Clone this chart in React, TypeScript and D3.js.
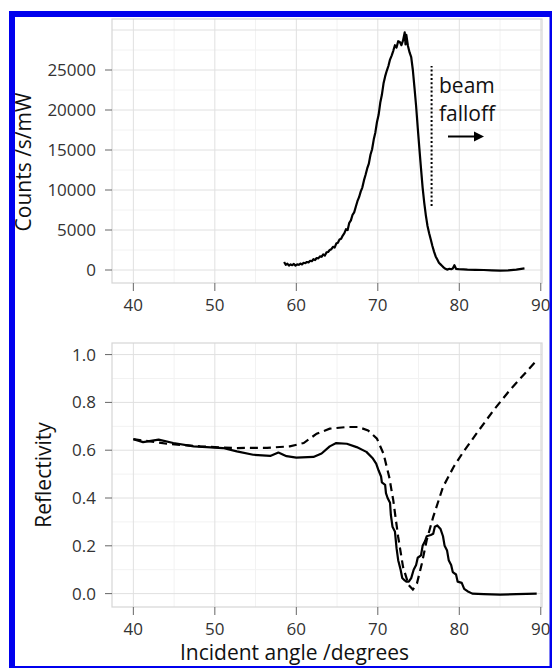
import React from 'react';
import * as d3 from 'd3';

// Top panel: photon counts vs incident angle
const countAngles = [58.5, 58.7, 58.9, 59.1, 59.3, 59.5, 59.7, 59.9, 60.1, 60.3, 60.5, 60.7, 60.9, 61.1, 61.3, 61.5, 61.7, 61.9, 62.1, 62.3, 62.5, 62.7, 62.9, 63.1, 63.3, 63.5, 63.7, 63.9, 64.1, 64.3, 64.5, 64.7, 64.9, 65.1, 65.3, 65.5, 65.7, 65.9, 66.1, 66.3, 66.5, 66.7, 66.9, 67.1, 67.3, 67.5, 67.7, 67.9, 68.1, 68.3, 68.5, 68.7, 68.9, 69.1, 69.3, 69.5, 69.7, 69.9, 70.1, 70.3, 70.5, 70.7, 70.9, 71.1, 71.3, 71.5, 71.7, 71.9, 72.1, 72.3, 72.5, 72.7, 72.9, 73.1, 73.3, 73.4, 73.5, 73.7, 73.9, 74.1, 74.3, 74.5, 74.7, 74.9, 75.1, 75.3, 75.5, 75.7, 75.9, 76.1, 76.3, 76.5, 76.7, 76.9, 77.1, 77.3, 77.5, 77.7, 77.9, 78.1, 78.3, 78.5, 78.8, 79.0, 79.2, 79.4, 79.6, 79.9, 80.5, 81, 82, 83, 84, 85, 86, 87, 88];
const counts = [1000, 650, 800, 550, 700, 600, 750, 550, 700, 650, 800, 700, 900, 850, 1000, 950, 1150, 1100, 1350, 1250, 1500, 1450, 1700, 1650, 1950, 1800, 2200, 2250, 2500, 2600, 2900, 2800, 3300, 3400, 3800, 3900, 4300, 4600, 5100, 5000, 5900, 6200, 6900, 7200, 7900, 8600, 9100, 9800, 10300, 11200, 11900, 12700, 13300, 14400, 15100, 16300, 17200, 18500, 19400, 20900, 21900, 23300, 24200, 24900, 25500, 26300, 26800, 27400, 28100, 27800, 28600, 28500, 28100, 28700, 29700, 28200, 29400, 28000, 27200, 26600, 25000, 22800, 20500, 17800, 15200, 12700, 10300, 8400, 6800, 5500, 4600, 3800, 3000, 2300, 1700, 1300, 900, 700, 500, 300, 150, 50, 150, 100, 200, 600, 150, 100, 80, 40, 20, 0, -50, -80, -50, 50, 200];

// Bottom panel: measured reflectivity (solid)
const measAngles = [40.0, 41.2, 43.1, 44.9, 47.4, 49.0, 51.0, 52.7, 54.7, 56.8, 57.8, 58.8, 60.0, 62.1, 63.1, 64.1, 64.9, 66.2, 67.4, 68.6, 69.4, 69.8, 70.1, 70.4, 70.5, 70.9, 71.0, 71.2, 71.5, 71.6, 71.8, 72.1, 72.3, 72.5, 72.8, 73.0, 73.3, 73.5, 73.8, 74.1, 74.4, 74.7, 74.9, 75.3, 75.5, 75.8, 76.0, 76.5, 76.8, 77.0, 77.3, 77.7, 78.0, 78.2, 78.5, 78.7, 79.0, 79.2, 79.6, 79.8, 80.3, 80.6, 81.0, 81.6, 83, 85, 87, 89.5];
const measRefl = [0.646, 0.634, 0.644, 0.630, 0.616, 0.613, 0.609, 0.595, 0.581, 0.576, 0.590, 0.575, 0.569, 0.572, 0.586, 0.616, 0.630, 0.627, 0.613, 0.593, 0.565, 0.544, 0.515, 0.49, 0.465, 0.455, 0.42, 0.40, 0.38, 0.33, 0.28, 0.26, 0.19, 0.14, 0.10, 0.065, 0.055, 0.05, 0.05, 0.065, 0.10, 0.12, 0.15, 0.16, 0.20, 0.22, 0.24, 0.245, 0.25, 0.28, 0.285, 0.27, 0.24, 0.20, 0.18, 0.14, 0.12, 0.09, 0.08, 0.05, 0.045, 0.02, 0.01, 0.0, -0.002, -0.004, -0.002, 0.0];

// Bottom panel: model reflectivity (dashed)
const modelAngles = [40, 44.1, 48.2, 52.3, 56.4, 59.2, 60.9, 62.5, 64.1, 66.2, 67.6, 68.8, 69.9, 70.7, 71.4, 71.9, 72.5, 73.1, 73.8, 74.3, 74.8, 75.4, 76.0, 76.8, 78.0, 79.3, 80.5, 82.1, 84.2, 86.2, 89.5];
const modelRefl = [0.646, 0.627, 0.616, 0.609, 0.610, 0.616, 0.630, 0.669, 0.690, 0.697, 0.697, 0.683, 0.648, 0.585, 0.488, 0.390, 0.237, 0.111, 0.035, 0.017, 0.042, 0.125, 0.223, 0.321, 0.446, 0.530, 0.593, 0.669, 0.767, 0.851, 0.976];

const angleTicks = [40, 50, 60, 70, 80, 90];
const countTicks = [0, 5000, 10000, 15000, 20000, 25000];
const reflTicks = [0, 0.2, 0.4, 0.6, 0.8, 1.0];

const FONT = '"Open Sans", sans-serif';

type Pt = [number, number];

function Panel({ top, bottom, x, y, xMinor, yMajor, yMinor, yTicks, fmt, lines, children }: any) {
  const [x0, x1] = x.range();
  return (
    <g>
      {xMinor.map((v: number) => (
        <line key={'xm' + v} x1={x(v)} x2={x(v)} y1={top} y2={bottom} stroke="#f2f2f2" strokeWidth={1} />
      ))}
      {yMinor.map((v: number) => (
        <line key={'ym' + v} x1={x0} x2={x1} y1={y(v)} y2={y(v)} stroke="#f2f2f2" strokeWidth={1} />
      ))}
      {angleTicks.map((v) => (
        <line key={'xM' + v} x1={x(v)} x2={x(v)} y1={top} y2={bottom} stroke="#e0e0e0" strokeWidth={1} />
      ))}
      {yMajor.map((v: number) => (
        <line key={'yM' + v} x1={x0} x2={x1} y1={y(v)} y2={y(v)} stroke="#e0e0e0" strokeWidth={1} />
      ))}
      <rect x={x0} y={top} width={x1 - x0} height={bottom - top} fill="none" stroke="#d6d6d6" strokeWidth={1.2} />
      {lines}
      {yTicks.map((v: number) => (
        <g key={'yt' + v}>
          <line x1={x0 - 7} x2={x0} y1={y(v)} y2={y(v)} stroke="#666" strokeWidth={1} />
          <text x={x0 - 16} y={y(v)} dy="0.35em" textAnchor="end" fontFamily={FONT} fontSize={17} fill="#333">
            {fmt(v)}
          </text>
        </g>
      ))}
      {angleTicks.map((v) => (
        <g key={'xt' + v}>
          <line x1={x(v)} x2={x(v)} y1={bottom} y2={bottom + 8} stroke="#666" strokeWidth={1} />
          <text x={x(v)} y={bottom + 28} textAnchor="middle" fontFamily={FONT} fontSize={17} fill="#333">
            {v}
          </text>
        </g>
      ))}
      {children}
    </g>
  );
}

export default function App() {
  const left = 112;
  const right = 542;
  const x = d3.scaleLinear().domain([37.38, 90.15]).range([left, right]);

  const topT = 19;
  const topB = 283;
  const yTop = d3.scaleLinear().domain([-1625, 31375]).range([topB, topT]);

  const botT = 343;
  const botB = 607;
  const yBot = d3.scaleLinear().domain([-0.056, 1.0485]).range([botB, botT]);

  const countPts: Pt[] = countAngles.map((a, i) => [a, counts[i]]);
  const measPts: Pt[] = measAngles.map((a, i) => [a, measRefl[i]]);
  const modelPts: Pt[] = modelAngles.map((a, i) => [a, modelRefl[i]]);

  const lineTop = d3.line<Pt>().x((d) => x(d[0])).y((d) => yTop(d[1]));
  const lineBot = d3.line<Pt>().x((d) => x(d[0])).y((d) => yBot(d[1]));

  const xMinor = [45, 55, 65, 75, 85];
  const falloffAngle = 76.6;

  return (
    <svg width={552} height={668} style={{ position: 'absolute', left: 0, top: 0, background: '#fff' }}>
      <rect x={0} y={0} width={552} height={668} fill="#fff" />

      <Panel
        top={topT}
        bottom={topB}
        x={x}
        y={yTop}
        xMinor={xMinor}
        yMajor={[0, 5000, 10000, 15000, 20000, 25000, 30000]}
        yMinor={[2500, 7500, 12500, 17500, 22500, 27500]}
        yTicks={countTicks}
        fmt={(v: number) => String(v)}
        lines={<path d={lineTop(countPts) || ''} fill="none" stroke="#000" strokeWidth={2.2} strokeLinejoin="round" />}
      >
        <line
          x1={x(falloffAngle)}
          x2={x(falloffAngle)}
          y1={yTop(8000)}
          y2={yTop(25500)}
          stroke="#000"
          strokeWidth={2}
          strokeDasharray="2 2.2"
        />
        <text x={439} y={93} fontFamily={FONT} fontSize={21} fill="#111">beam</text>
        <text x={439} y={121} fontFamily={FONT} fontSize={21} fill="#111">falloff</text>
        <line x1={448} x2={476} y1={136.5} y2={136.5} stroke="#000" strokeWidth={2} />
        <path d="M474,131.5 L484,136.5 L474,141.5 Z" fill="#000" />
      </Panel>

      <text
        transform="translate(31,162) rotate(-90)"
        textAnchor="middle"
        fontFamily={FONT}
        fontSize={21}
        fill="#111"
      >
        Counts /s/mW
      </text>

      <Panel
        top={botT}
        bottom={botB}
        x={x}
        y={yBot}
        xMinor={xMinor}
        yMajor={reflTicks}
        yMinor={[0.1, 0.3, 0.5, 0.7, 0.9]}
        yTicks={reflTicks}
        fmt={d3.format('.1f')}
        lines={
          <g>
            <path d={lineBot(modelPts) || ''} fill="none" stroke="#000" strokeWidth={2.2} strokeDasharray="8 5" />
            <path d={lineBot(measPts) || ''} fill="none" stroke="#000" strokeWidth={2.2} strokeLinejoin="round" />
          </g>
        }
      />

      <text
        transform="translate(51,475) rotate(-90)"
        textAnchor="middle"
        fontFamily={FONT}
        fontSize={21}
        fill="#111"
      >
        Reflectivity
      </text>
      <text x={294.5} y={660} textAnchor="middle" fontFamily={FONT} fontSize={21} fill="#111">
        Incident angle /degrees
      </text>

      <rect x={12} y={14} width={540.5} height={655} fill="none" stroke="#0000ee" strokeWidth={6} />
    </svg>
  );
}
